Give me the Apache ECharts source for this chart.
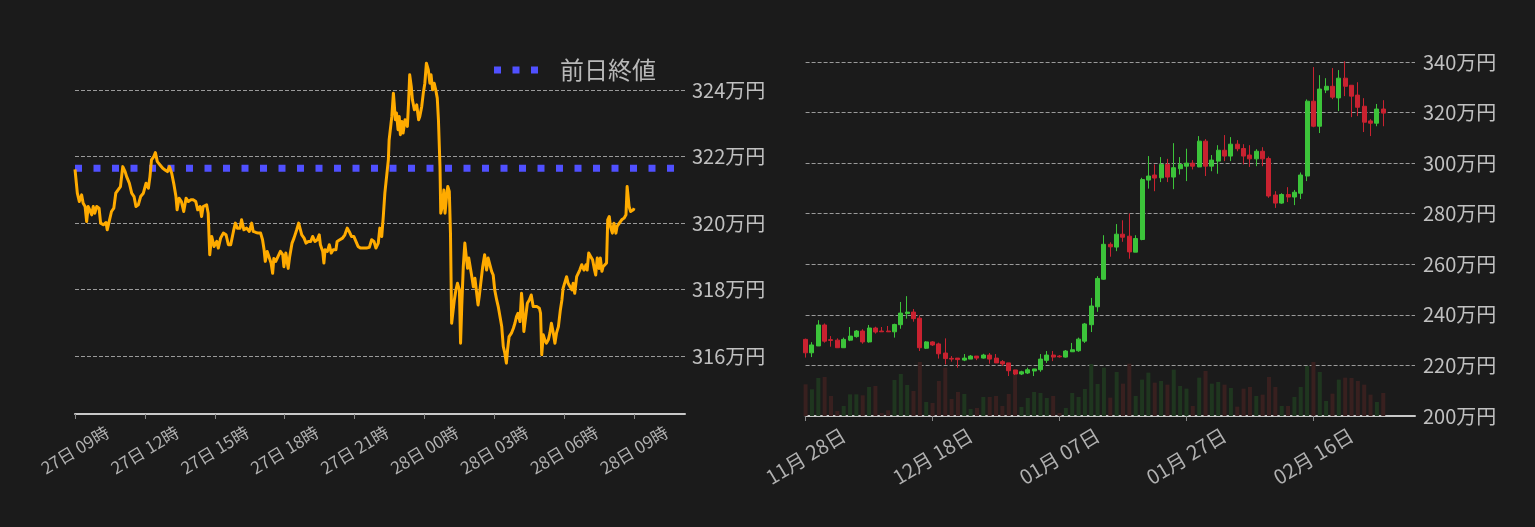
<!DOCTYPE html>
<html>
<head>
<meta charset="utf-8">
<script src="https://cdn.jsdelivr.net/npm/echarts@6/dist/echarts.min.js"></script>
<style>
html,body{margin:0;padding:0;background:#1b1b1b;}
#c{width:1535px;height:527px;}
</style>
</head>
<body>
<div id="c"></div>
<script>
// ---------- Left chart: intraday price (minutes after 27日 09:00, 万円) ----------
const lineMinutes = [0,6,11,17,21,26,30,34,38,43,47,51,56,62,66,73,80,83,88,94,100,105,111,117,123,129,133,140,146,152,157,163,169,176,183,189,193,197,203,207,212,219,226,232,238,243,249,255,260,263,268,274,280,286,292,298,305,311,316,322,326,330,339,343,347,352,358,365,369,375,382,389,395,401,408,413,418,425,429,435,442,449,455,459,466,472,478,483,487,490,495,500,505,509,512,517,523,529,535,538,543,549,553,559,564,571,576,581,584,590,595,601,607,612,618,624,629,632,638,641,644,650,655,660,665,672,675,682,689,695,701,706,712,718,723,729,735,742,751,758,764,770,775,781,785,790,794,798,802,807,809,813,816,820,822,825,828,832,835,838,842,845,850,856,859,862,866,869,874,880,885,888,893,897,901,905,910,914,917,921,925,929,933,936,940,942,946,950,953,957,960,964,967,970,974,977,981,985,990,993,996,1000,1004,1008,1011,1014,1019,1022,1026,1030,1034,1038,1041,1044,1050,1055,1060,1064,1069,1073,1077,1081,1086,1090,1094,1099,1103,1107,1111,1114,1118,1124,1129,1133,1137,1141,1146,1150,1153,1156,1161,1165,1170,1175,1180,1185,1190,1196,1199,1202,1206,1210,1214,1219,1223,1227,1232,1236,1240,1245,1250,1254,1257,1262,1266,1270,1275,1280,1283,1287,1292,1296,1300,1305,1311,1316,1319,1323,1328,1333,1338,1341,1345,1350,1353,1357,1360,1365,1369,1372,1376,1379,1384,1388,1393,1396,1402,1408,1414,1419,1422,1427,1431,1438,1440];
const linePrices = [321.62,320.90,320.65,320.85,320.60,320.50,320.05,320.50,320.40,320.25,320.50,320.30,320.50,320.45,320.00,319.95,320.02,319.80,320.05,320.35,320.45,320.90,321.00,321.10,321.70,321.55,321.40,321.20,320.90,320.80,320.50,320.55,320.80,320.90,321.20,321.05,321.40,321.90,322.00,322.12,321.85,321.75,321.65,321.60,321.55,321.70,321.50,321.15,320.80,320.40,320.75,320.65,320.35,320.75,320.65,320.70,320.70,320.65,320.40,320.50,320.20,320.50,320.55,320.30,319.05,319.60,319.30,319.45,319.25,319.55,319.70,319.65,319.35,319.35,319.75,320.00,319.85,319.85,320.10,319.80,319.85,319.75,320.00,319.75,319.72,319.70,319.70,319.50,319.20,318.85,319.15,319.10,318.80,318.49,318.94,318.85,319.00,319.15,319.05,318.69,319.10,318.64,319.00,319.40,319.55,319.80,320.00,320.05,319.65,319.55,319.40,319.45,319.45,319.60,319.45,319.50,319.65,319.35,319.15,318.80,319.20,319.15,319.35,319.10,319.20,319.20,319.45,319.50,319.55,319.65,319.85,319.75,319.60,319.60,319.55,319.30,319.25,319.25,319.25,319.27,319.50,319.45,319.25,319.40,319.85,319.60,320.20,320.90,320.95,321.90,322.50,322.55,323.21,323.91,323.61,323.11,323.31,322.81,323.21,322.66,323.06,322.71,323.11,322.91,323.61,324.46,324.11,323.71,323.41,323.56,323.11,323.21,323.51,323.91,324.21,324.81,324.61,324.21,324.46,324.01,324.21,324.01,323.76,323.11,321.70,320.30,320.50,321.00,320.30,320.80,321.10,320.95,319.70,316.99,316.99,317.69,317.99,318.19,317.99,316.39,317.49,318.69,319.40,318.95,318.64,318.95,318.90,318.39,318.09,318.34,318.39,317.54,317.79,318.09,318.69,319.05,318.59,318.95,318.95,318.55,318.44,317.99,317.69,317.49,317.49,316.89,316.29,316.09,315.79,316.19,316.59,316.69,316.84,316.99,317.19,317.29,317.04,317.89,317.49,316.74,316.79,317.59,317.69,317.84,317.49,317.44,317.49,317.44,317.29,316.04,316.64,316.49,316.39,316.49,316.69,316.99,316.69,316.39,316.69,316.89,317.39,317.69,318.04,317.99,318.39,318.19,318.09,317.99,318.19,317.89,318.39,318.44,318.59,318.75,318.59,318.75,318.59,319.10,319.00,318.90,318.59,318.44,318.95,318.64,318.95,318.55,318.69,318.75,318.80,320.10,320.20,319.90,319.70,320.00,319.70,319.90,320.00,320.10,320.15,320.25,321.10,320.50,320.35,320.40,320.45];
const prevClose = 321.65;
const prevCloseName = '前日終値';
const lineAxisMin = 0, lineAxisMax = 1571;          // minutes
const lineYMin = 314.26, lineYMax = 326.35;          // 万円
const lineYTicks = [316, 318, 320, 322, 324];
const timeTicks = [0, 180, 360, 540, 720, 900, 1080, 1260, 1440];
const lineStartUTC = Date.UTC(2020, 1, 27, 9, 0);

// ---------- Right chart: daily candles (万円) ----------
const candleStartUTC = Date.UTC(2019, 10, 28);
const candleAxisDays = 97;
const candleOpen  = [230.3,225.0,227.7,236.0,230.2,230.0,227.0,230.0,231.4,233.6,229.3,234.8,233.6,233.6,233.3,236.1,240.5,241.1,238.7,226.8,229.3,228.5,224.9,222.8,222.9,222.1,222.5,223.7,222.9,224.1,222.9,221.5,221.0,218.2,216.6,217.0,217.8,218.3,222.0,224.1,223.7,223.3,225.4,225.8,229.6,236.1,243.2,254.1,267.9,266.8,271.9,271.1,264.8,269.8,293.3,295.3,294.2,299.5,294.5,297.8,298.8,300.0,298.5,308.7,298.8,300.8,305.1,302.8,307.5,305.8,303.2,301.7,304.7,301.8,287.4,284.2,287.6,286.6,288.1,294.9,324.5,314.6,328.9,330.4,325.8,333.6,330.8,326.9,322.5,316.7,315.8,321.4];
const candleClose = [225.0,228.1,236.0,229.6,229.9,227.0,230.3,231.6,233.6,229.3,234.8,233.2,233.3,233.3,236.2,240.7,241.1,238.5,227.0,229.3,228.1,224.6,222.7,222.5,222.3,222.9,223.7,222.9,224.1,222.5,221.0,220.6,217.9,216.6,217.5,218.3,218.6,222.5,224.1,223.3,223.4,225.7,226.2,230.4,236.4,243.5,254.4,267.9,266.9,271.9,270.7,264.9,270.2,293.5,294.9,294.1,299.5,294.5,298.2,299.5,300.0,298.8,308.7,298.8,301.2,305.1,302.8,307.5,305.7,302.8,301.7,304.7,301.7,287.0,284.2,287.6,286.6,288.5,295.3,324.5,314.6,329.3,330.4,326.1,333.6,330.4,326.5,322.1,316.2,315.8,321.4,319.8];
const candleLow   = [223.1,223.3,227.7,229.0,227.4,227.0,227.0,229.6,231.0,228.6,229.0,232.6,233.3,233.3,231.0,234.5,238.5,237.3,225.7,226.5,227.7,222.7,220.4,221.5,219.1,221.7,222.5,222.1,222.7,220.7,221.0,219.8,215.8,216.2,216.2,216.6,215.8,217.5,221.0,221.7,223.1,223.1,225.4,225.4,228.9,233.2,241.2,253.9,263.0,265.2,268.9,262.2,264.8,269.5,289.9,288.9,292.5,292.5,289.7,295.5,292.9,297.5,298.4,294.9,296.8,295.8,300.8,300.8,304.7,299.5,298.5,298.8,298.8,286.3,282.3,283.9,284.6,283.4,285.8,292.9,314.2,311.9,327.7,325.3,320.6,326.5,318.2,318.6,312.3,310.7,314.6,314.6];
const candleHigh  = [230.6,229.2,237.9,236.6,231.6,230.7,231.0,235.2,234.0,234.3,236.0,235.3,235.2,235.6,236.5,245.1,247.4,242.3,239.8,229.6,229.6,229.0,230.7,223.7,222.9,224.5,224.1,223.7,224.6,224.9,224.5,222.1,221.0,218.2,217.9,219.1,218.6,224.5,225.7,225.7,224.1,226.1,228.9,231.0,236.8,246.7,255.3,271.5,268.7,275.9,277.4,280.1,271.5,294.2,302.8,299.5,302.4,301.7,307.9,302.4,305.7,301.2,310.7,309.5,303.2,307.1,311.1,310.3,309.1,307.5,307.1,305.5,306.3,302.6,288.9,288.1,290.5,289.4,296.3,325.2,338.0,334.8,333.6,337.6,336.8,340.3,330.8,332.0,325.7,317.4,323.4,324.9];
const volume      = [95,80,114,117,60,15,30,65,65,62,87,90,9,17,108,126,93,75,162,42,39,105,145,51,72,66,21,24,57,57,60,30,66,140,27,54,72,69,54,60,9,24,69,57,81,156,96,145,55,132,97,157,60,109,130,100,105,94,139,90,82,30,115,135,97,102,94,84,28,82,87,60,64,117,87,30,30,57,87,150,162,132,45,67,109,115,114,105,94,64,42,69];
const candleYTicksMin = 200, candleYTicksMax = 340, candleYStep = 20;
const volumeAxisMax = 1062;

// ---------- build ----------
function pad(n){ return (n < 10 ? '0' : '') + n; }
const dayCategories = [];
for (let i = 0; i < candleAxisDays; i++) {
  const d = new Date(candleStartUTC + i * 86400000);
  dayCategories.push(pad(d.getUTCMonth() + 1) + '月 ' + pad(d.getUTCDate()) + '日');
}
const candleData = candleOpen.map((o, i) => [o, candleClose[i], candleLow[i], candleHigh[i]]);
const UP = '#3cc43a', DOWN = '#c92230', UPV = '#1f361f', DOWNV = '#38201f';
const volumeData = volume.map((v, i) => ({
  value: v,
  itemStyle: { color: candleClose[i] >= candleOpen[i] ? UPV : DOWNV }
}));
const linePoints = lineMinutes.map((m, i) => [m, linePrices[i]]);
const FONT = '"Noto Sans CJK JP", "Noto Sans", sans-serif';
const gridLine = { show: true, lineStyle: { color: '#9a9a9a', width: 1, type: [4, 2] } };
const dotIcon = 'path://M0,0h7v7h-7z M18.5,0h7v7h-7z M37,0h7v7h-7z';

const chart = echarts.init(document.getElementById('c'), null, { renderer: 'canvas' });
chart.setOption({
  backgroundColor: '#1b1b1b',
  animation: false,
  textStyle: { fontFamily: FONT },
  legend: {
    left: 489, top: 53,
    itemWidth: 44, itemHeight: 7,
    data: [{ name: prevCloseName, icon: dotIcon }],
    itemStyle: { color: '#5050ff' },
    textStyle: { color: '#b8b8b8', fontSize: 24, fontFamily: FONT, padding: [0, 0, 0, 17] }
  },
  grid: [
    { left: 75, top: 12, width: 610, height: 402 },
    { left: 805.6, top: 62, width: 609.4, height: 354 }
  ],
  xAxis: [
    {
      gridIndex: 0, type: 'value', min: lineAxisMin, max: lineAxisMax,
      splitLine: { show: false },
      axisLine: { show: true, lineStyle: { color: '#c8c8c8', width: 2 } },
      axisTick: { show: true, length: 5, lineStyle: { color: '#888' }, customValues: timeTicks },
      axisLabel: {
        customValues: timeTicks,
        rotate: 31, align: 'center', verticalAlign: 'middle', margin: 36,
        color: '#b0b0b0', fontSize: 17, fontFamily: FONT,
        formatter: function (m) {
          const d = new Date(lineStartUTC + m * 60000);
          return pad(d.getUTCDate()) + '日 ' + pad(d.getUTCHours()) + '時';
        }
      }
    },
    {
      gridIndex: 1, type: 'category', data: dayCategories, boundaryGap: false,
      splitLine: { show: false },
      axisLine: { show: true, lineStyle: { color: '#c8c8c8', width: 2 } },
      axisTick: { show: true, interval: 19, length: 5, lineStyle: { color: '#888' } },
      axisLabel: {
        interval: 19, rotate: 31, align: 'center', verticalAlign: 'middle', margin: 40,
        color: '#b0b0b0', fontSize: 20, fontFamily: FONT
      }
    }
  ],
  yAxis: [
    {
      gridIndex: 0, type: 'value', position: 'right', min: lineYMin, max: lineYMax,
      axisLine: { show: false },
      axisTick: { show: false, customValues: lineYTicks },
      splitLine: gridLine,
      axisLabel: {
        customValues: lineYTicks, margin: 7,
        color: '#c0c0c0', fontSize: 20, fontFamily: FONT,
        formatter: v => v + '万円'
      }
    },
    {
      gridIndex: 1, type: 'value', position: 'right',
      min: candleYTicksMin, max: candleYTicksMax, interval: candleYStep,
      axisLine: { show: false }, axisTick: { show: false },
      splitLine: gridLine,
      axisLabel: { margin: 8, color: '#c0c0c0', fontSize: 20, fontFamily: FONT, formatter: v => v + '万円' }
    },
    {
      gridIndex: 1, type: 'value', min: 0, max: volumeAxisMax, show: false,
      splitLine: { show: false }
    }
  ],
  series: [
    {
      name: prevCloseName, type: 'line', xAxisIndex: 0, yAxisIndex: 0,
      data: [[lineAxisMin, prevClose], [lineAxisMax, prevClose]],
      symbol: 'none', silent: true, z: 3,
      lineStyle: { color: '#5050ff', width: 7, type: [7, 11.5], cap: 'butt' },
      itemStyle: { color: '#5050ff' }
    },
    {
      name: 'price', type: 'line', xAxisIndex: 0, yAxisIndex: 0,
      data: linePoints, symbol: 'none', z: 4,
      lineStyle: { color: '#ffab00', width: 3, join: 'round' }
    },
    {
      name: 'volume', type: 'bar', xAxisIndex: 1, yAxisIndex: 2,
      data: volumeData, barWidth: 4, z: 1
    },
    {
      name: 'candle', type: 'candlestick', xAxisIndex: 1, yAxisIndex: 1,
      data: candleData, barWidth: 4.5, z: 3,
      itemStyle: { color: UP, color0: DOWN, borderColor: UP, borderColor0: DOWN, borderWidth: 1 }
    }
  ]
});
</script>
</body>
</html>
